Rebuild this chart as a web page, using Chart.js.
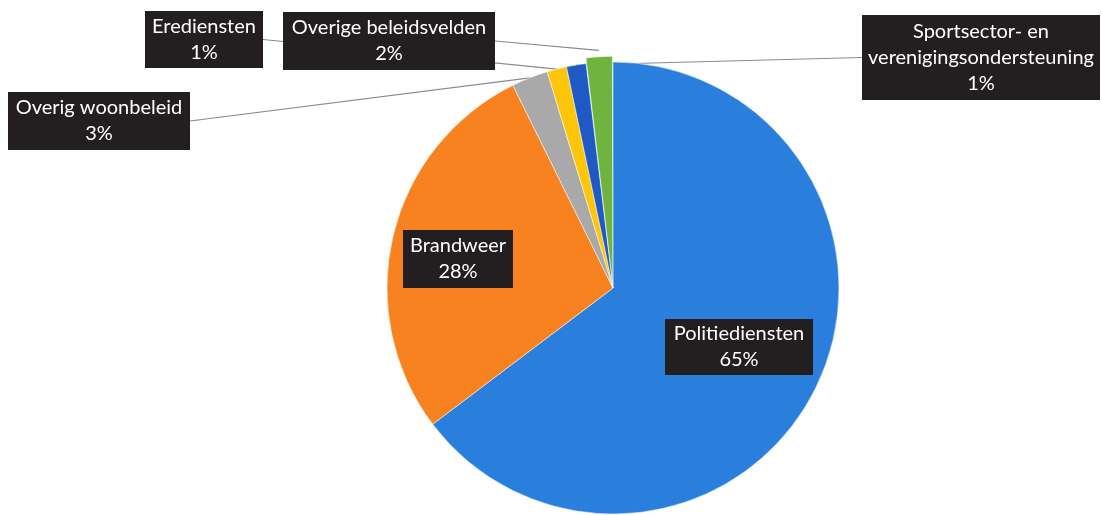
<!DOCTYPE html>
<html>
<head>
  <meta charset="UTF-8" />
  <title>Verdeling uitgaven</title>
  <script src="https://cdn.jsdelivr.net/npm/chart.js"></script>
  <style>
    html, body { margin: 0; padding: 0; background: #fff; }
    #wrap { width: 1102px; height: 515px; }
  </style>
</head>
<body>
  <div id="wrap"><canvas id="chart" width="1102" height="515"></canvas></div>
  <script>
    // data, clockwise from 12 o'clock
    const categories = ['Politiediensten', 'Brandweer', 'Overig woonbeleid', 'Erediensten',
      'Sportsector- en verenigingsondersteuning', 'Overige beleidsvelden'];
    const shares = [64.7, 28.0, 2.6, 1.4, 1.4, 1.9];
    const labelLines = [['Politiediensten'], ['Brandweer'], ['Overig woonbeleid'], ['Erediensten'],
      ['Sportsector- en', 'verenigingsondersteuning'], ['Overige beleidsvelden']];
    const colors = ['#2b7fdc', '#f7821f', '#a9a9a9', '#fec60a', '#1f59c4', '#6eb43f'];

    // label box layout: [left, top, width, height], leader = draw line to slice
    const boxes = [
      { box: [665, 319, 148, 56], leader: false },
      { box: [403, 230, 110, 58], leader: false },
      { box: [8, 92, 182, 58], leader: true },
      { box: [145, 11, 118, 57], leader: true },
      { box: [862, 15, 238, 85], leader: true },
      { box: [283, 12, 212, 58], leader: true }
    ];

    const FONT = '20px Lato, "Open Sans", sans-serif';

    function anchorOf(arc) {
      const p = arc.getProps(['x', 'y', 'startAngle', 'endAngle', 'outerRadius'], true);
      const mid = (p.startAngle + p.endAngle) / 2;
      const off = arc.options.offset || 0;
      const r = p.outerRadius + off;
      return { x: p.x + Math.cos(mid) * r, y: p.y + Math.sin(mid) * r };
    }

    const labelPlugin = {
      id: 'boxLabels',
      beforeDatasetsDraw(chart) {
        const ctx = chart.ctx;
        const arcs = chart.getDatasetMeta(0).data;
        ctx.save();
        ctx.strokeStyle = '#8a8a8a';
        ctx.lineWidth = 1.2;
        boxes.forEach((b, i) => {
          if (!b.leader) return;
          const a = anchorOf(arcs[i]);
          const [l, t, w, h] = b.box;
          const sx = a.x > l + w ? l + w : l;
          ctx.beginPath();
          ctx.moveTo(sx, t + h / 2);
          ctx.lineTo(a.x, a.y);
          ctx.stroke();
        });
        ctx.restore();
      },
      afterDatasetsDraw(chart) {
        const ctx = chart.ctx;
        const total = shares.reduce((s, v) => s + v, 0);
        ctx.save();
        ctx.font = FONT;
        ctx.textAlign = 'center';
        ctx.textBaseline = 'middle';
        boxes.forEach((b, i) => {
          const [l, t, w, h] = b.box;
          ctx.fillStyle = '#231f20';
          ctx.fillRect(l, t, w, h);
          const lines = labelLines[i].concat([Math.round(shares[i] / total * 100) + '%']);
          const lh = 26;
          const y0 = t + h / 2 - (lines.length - 1) * lh / 2;
          ctx.fillStyle = '#ffffff';
          lines.forEach((s, k) => ctx.fillText(s, l + w / 2, y0 + k * lh));
        });
        ctx.restore();
      }
    };

    new Chart(document.getElementById('chart'), {
      type: 'pie',
      data: {
        labels: categories,
        datasets: [{
          data: shares,
          backgroundColor: colors,
          borderColor: '#ffffff',
          borderWidth: 0.5,
          offset: [0, 0, 0, 0, 0, 12]
        }]
      },
      options: {
        responsive: false,
        animation: false,
        events: [],
        radius: 226,
        layout: { padding: { left: 124, right: 0, top: 61, bottom: 0 } },
        plugins: { legend: { display: false }, tooltip: { enabled: false } }
      },
      plugins: [labelPlugin]
    });
  </script>
</body>
</html>
